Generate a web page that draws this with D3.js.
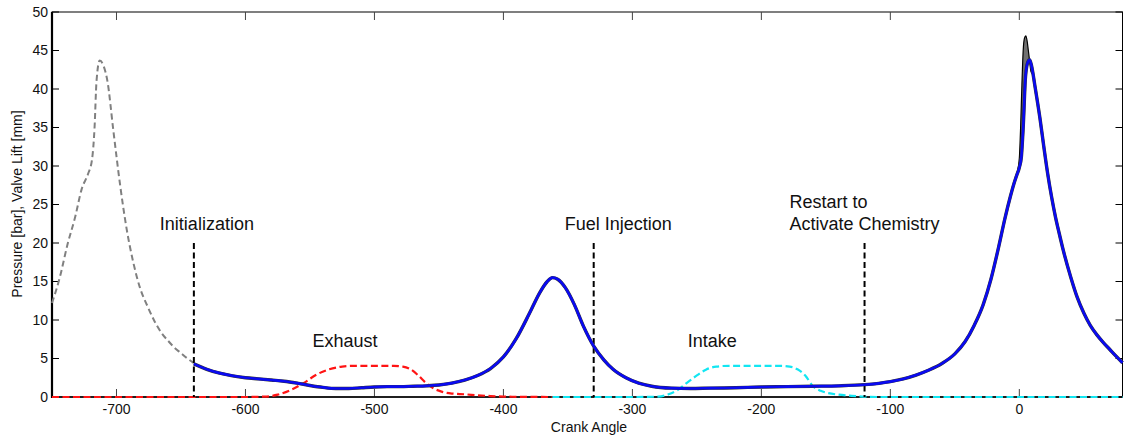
<!DOCTYPE html>
<html>
<head>
<meta charset="utf-8">
<script src="https://cdn.jsdelivr.net/npm/d3@7"></script>
<style>
  html, body { margin: 0; padding: 0; background: #fff; }
  svg { display: block; font-family: "Liberation Sans", Arial, sans-serif; }
</style>
</head>
<body>
<svg id="chart" width="1125" height="439"></svg>
<script>
// Crank angle axis and ticks
const xDomain = [-750, 80];
const yDomain = [0, 50];
const xTicks = [-700, -600, -500, -400, -300, -200, -100, 0];
const yTicks = [0, 5, 10, 15, 20, 25, 30, 35, 40, 45, 50];

// Previous-cycle pressure before initialization (bar)
const prevAngle = [-750, -744, -738, -732, -727, -722, -719, -717, -715.5, -713, -710, -707, -702.5, -697, -692, -687, -682, -676, -671, -665, -660, -655, -650, -645, -640];
const prevPressure = [12.2, 15.5, 19.8, 23.4, 27, 29, 30.8, 35, 41, 43.7, 43, 41, 34.7, 27.3, 21.7, 17.5, 14.3, 11.8, 10, 8.3, 7.3, 6.4, 5.7, 5, 4.4];

// Simulated cylinder pressure (bar)
const pAngle = [-640, -630, -620, -610, -600, -590, -580, -570, -560, -550, -540, -530, -520, -510, -500, -490, -480, -470, -460, -450, -440, -430, -420, -410, -400, -390, -380, -372, -366, -362, -358, -352, -345, -338, -330, -322, -315, -305, -295, -285, -270, -255, -240, -220, -200, -180, -160, -140, -120, -100, -90, -80, -70, -60, -50, -42, -35, -28, -22, -16, -11, -7, -4, -2, 0, 1.6, 3, 4.8, 6.6, 8, 9.5, 12, 16, 19, 22, 25, 28, 31, 34, 40, 45, 50, 55, 60, 65, 70, 75, 80];
const pressure = [4.3, 3.6, 3.1, 2.75, 2.5, 2.35, 2.2, 2.05, 1.8, 1.5, 1.25, 1.1, 1.1, 1.2, 1.3, 1.35, 1.35, 1.4, 1.45, 1.55, 1.8, 2.2, 2.8, 3.7, 5.2, 7.6, 10.8, 13.5, 15.0, 15.5, 15.3, 14.2, 12.0, 9.2, 6.6, 4.8, 3.6, 2.5, 1.8, 1.4, 1.15, 1.1, 1.15, 1.2, 1.3, 1.35, 1.4, 1.45, 1.6, 2.0, 2.35, 2.85, 3.5, 4.35, 5.6, 7.2, 9.3, 12.0, 15.3, 19.5, 23.3, 26.0, 27.8, 28.8, 29.8, 31.2, 35, 41.6, 43.5, 43.8, 43, 40.5, 36.2, 32.5, 29, 26, 23.4, 21.2, 19.1, 15.5, 12.9, 10.9, 9.3, 8.1, 7.1, 6.2, 5.3, 4.45];

// Cycle-to-cycle spread of peak pressure (bar)
const bandAngle = [-3, -1.5, 0, 1, 2, 3, 4, 5, 6, 7, 8, 9, 10];
const bandHigh = [28.6, 29.3, 31, 35, 40.5, 45, 46.6, 46.9, 46.3, 45, 43.6, 42.3, 42];
const bandLow = [28.3, 29.0, 29.8, 30.8, 32.6, 35, 39, 41.8, 43, 43.6, 43.8, 43.2, 42.6];

// Exhaust valve lift (mm)
const exAngle = [-750, -600, -585, -575, -565, -555, -545, -535, -525, -515, -500, -485, -478, -472, -466, -460, -454, -448, -440, -430, -420, -410, -400, -385, -362];
const exLift = [0, 0, 0.05, 0.3, 0.9, 1.8, 2.9, 3.6, 3.95, 4.05, 4.05, 4.05, 3.95, 3.6, 2.8, 1.8, 1.1, 0.7, 0.45, 0.35, 0.22, 0.12, 0.05, 0.02, 0];

// Intake valve lift (mm)
const inAngle = [-362, -300, -280, -272, -265, -258, -250, -243, -235, -225, -200, -185, -178, -172, -166, -160, -154, -148, -140, -130, -120, -110, 80];
const inLift = [0, 0, 0.05, 0.35, 0.9, 1.8, 2.8, 3.55, 3.95, 4.05, 4.05, 4.05, 3.95, 3.6, 2.8, 1.4, 0.8, 0.5, 0.3, 0.15, 0.04, 0, 0];

// Simulation events
const eventAngle = [-640, -330, -120];
const eventLabels = [["Initialization"], ["Fuel Injection"], ["Restart to", "Activate Chemistry"]];
const eventTop = 20;

// Valve labels
const valveLabels = ["Exhaust", "Intake"];
const valveLabelAngle = [-548, -257];
const valveLabelLevel = 6.5;

const svg = d3.select("#chart");
const plotL = 52, plotR = 1122.5, plotT = 12, plotB = 397;
const x = d3.scaleLinear().domain(xDomain).range([plotL, plotR]);
const y = d3.scaleLinear().domain(yDomain).range([plotB, plotT]);

const zip = (a, b) => a.map((v, i) => [v, b[i]]);
const line = d3.line().x(d => x(d[0])).y(d => y(d[1])).curve(d3.curveMonotoneX);

// Frame
svg.append("rect").attr("x", plotL).attr("y", plotT)
  .attr("width", plotR - plotL).attr("height", plotB - plotT)
  .attr("fill", "none").attr("stroke", "#000").attr("stroke-width", 1);

// Inward ticks on all four sides
const gx = svg.append("g");
gx.selectAll("line.b").data(xTicks).join("line").attr("class", "b")
  .attr("x1", d => x(d)).attr("x2", d => x(d))
  .attr("y1", plotB).attr("y2", plotB - 8)
  .attr("stroke", "#444").attr("stroke-width", 1);
gx.selectAll("line.t").data(xTicks).join("line").attr("class", "t")
  .attr("x1", d => x(d)).attr("x2", d => x(d))
  .attr("y1", plotT).attr("y2", plotT + 8)
  .attr("stroke", "#444").attr("stroke-width", 1);
svg.append("g").selectAll("text").data(xTicks).join("text")
  .attr("x", d => x(d)).attr("y", 414)
  .attr("text-anchor", "middle").attr("font-size", 14).attr("fill", "#111")
  .text(d => d);

const gy = svg.append("g");
gy.selectAll("line").data(yTicks).join("line")
  .attr("x1", plotL).attr("x2", plotL + 7)
  .attr("y1", d => y(d)).attr("y2", d => y(d))
  .attr("stroke", "#000").attr("stroke-width", 1);
const gy2 = svg.append("g");
gy2.selectAll("line").data(yTicks).join("line")
  .attr("x1", plotR).attr("x2", plotR - 7)
  .attr("y1", d => y(d)).attr("y2", d => y(d))
  .attr("stroke", "#000").attr("stroke-width", 1);
svg.append("g").selectAll("text").data(yTicks).join("text")
  .attr("x", 48).attr("y", d => y(d)).attr("dy", "0.35em")
  .attr("text-anchor", "end").attr("font-size", 14).attr("fill", "#111")
  .text(d => d);

// Thick left axis and base line
svg.append("line").attr("x1", plotL).attr("x2", plotL).attr("y1", plotT).attr("y2", plotB + 1)
  .attr("stroke", "#000").attr("stroke-width", 2.2);
svg.append("line").attr("x1", plotL).attr("x2", plotR).attr("y1", plotB).attr("y2", plotB)
  .attr("stroke", "#000").attr("stroke-width", 1.4);

// Axis titles
svg.append("text").attr("x", 589).attr("y", 432)
  .attr("text-anchor", "middle").attr("font-size", 14).attr("fill", "#111")
  .text("Crank Angle");
svg.append("text").attr("transform", "translate(22,204) rotate(-90)")
  .attr("text-anchor", "middle").attr("font-size", 14).attr("fill", "#111")
  .text("Pressure [bar], Valve Lift [mm]");

// Previous-cycle pressure
svg.append("path").datum(zip(prevAngle, prevPressure)).attr("d", line)
  .attr("fill", "none").attr("stroke", "#808080").attr("stroke-width", 2)
  .attr("stroke-dasharray", "6,3.5");

// Valve lifts
svg.append("path").datum(zip(exAngle, exLift)).attr("d", line)
  .attr("fill", "none").attr("stroke", "#ff1414").attr("stroke-width", 2.2)
  .attr("stroke-dasharray", "7,3.5");
svg.append("path").datum(zip(inAngle, inLift)).attr("d", line)
  .attr("fill", "none").attr("stroke", "#12e6f2").attr("stroke-width", 2.2)
  .attr("stroke-dasharray", "7,3.5");

// Event markers
svg.append("g").selectAll("line").data(eventAngle).join("line")
  .attr("x1", d => x(d)).attr("x2", d => x(d))
  .attr("y1", y(eventTop)).attr("y2", y(0))
  .attr("stroke", "#000").attr("stroke-width", 2).attr("stroke-dasharray", "6,3.5");

// Cycle spread band around peak pressure
const band = d3.area()
  .x((d, i) => x(bandAngle[i]))
  .y0((d, i) => y(bandLow[i]))
  .y1((d, i) => y(bandHigh[i]))
  .curve(d3.curveMonotoneX);
svg.append("path").datum(bandAngle).attr("d", band)
  .attr("fill", "#707070").attr("stroke", "#000").attr("stroke-width", 1.2);

// Cylinder pressure with dark edge
const pData = zip(pAngle, pressure);
svg.append("path").datum(pData).attr("d", line)
  .attr("fill", "none").attr("stroke", "#333").attr("stroke-width", 3.4);
svg.append("path").datum(pData).attr("d", line)
  .attr("fill", "none").attr("stroke", "#0a0af0").attr("stroke-width", 2.6);

// Event labels
const labelDx = [-34, -29, -75];
const lab = svg.append("g").attr("font-size", 18).attr("fill", "#111");
eventAngle.forEach((a, i) => {
  const lines = eventLabels[i];
  lines.forEach((t, j) => {
    lab.append("text")
      .attr("x", x(a) + labelDx[i])
      .attr("y", y(eventTop) - 13 - (lines.length - 1 - j) * 22)
      .text(t);
  });
});
valveLabels.forEach((t, i) => {
  lab.append("text").attr("x", x(valveLabelAngle[i])).attr("y", y(valveLabelLevel))
    .text(t);
});
</script>
</body>
</html>
